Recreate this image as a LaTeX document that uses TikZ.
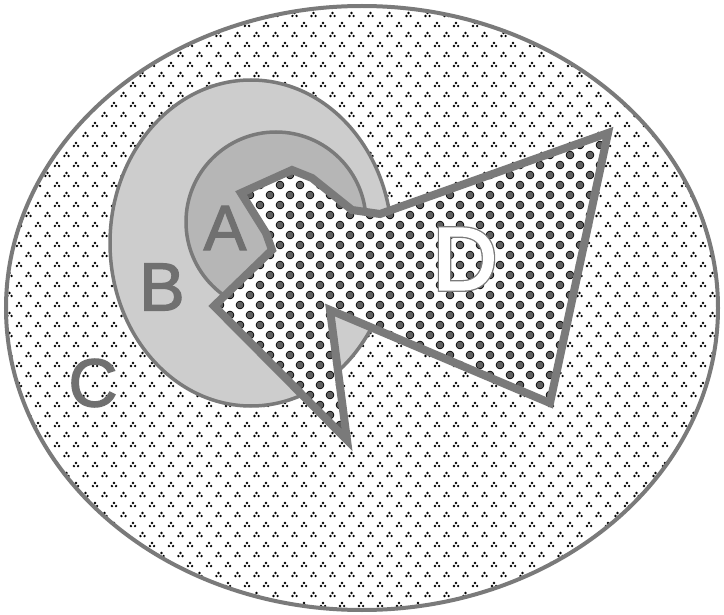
\documentclass[tikz,border=0pt]{standalone}
\usepackage{fontspec}
\setmainfont{Liberation Sans}
\newfontfamily\lettfont[FakeBold=2]{Liberation Sans}
\newfontfamily\doutfont[FakeBold=6]{Liberation Sans}
\newfontfamily\dinfont[FakeBold=3]{Liberation Sans}
\definecolor{strk}{RGB}{122,122,122}
\definecolor{bfill}{RGB}{205,205,205}
\definecolor{afill}{RGB}{182,182,182}
\definecolor{dcirc}{RGB}{95,95,95}
\definecolor{lett}{RGB}{112,112,112}
\begin{document}
\begin{tikzpicture}[x=1pt,y=-1pt,
  region/.style={draw=strk, line width=3.5pt},
  letter/.style={inner sep=0pt, text=lett, font=\lettfont\fontsize{68}{68}\selectfont},
  dletter/.style={inner sep=0pt}]
\useasboundingbox (0,0) rectangle (724,615);
\fill[white] (0,0) rectangle (724,615);
% region C with sparse three-dot clusters
\begin{scope}
  \clip (362,308) ellipse [x radius=356, y radius=302];
  \foreach \j in {0,...,62} {
    \foreach \i in {0,...,38} {
      \pgfmathsetmacro\xx{\i*19+mod(\j,2)*9.5}
      \pgfmathsetmacro\yy{\j*10+3}
      \fill[black] (\xx,\yy) circle (1.35) ++(-2.1,3.0) circle (1.35) ++(4.2,0) circle (1.35);
    }
  }
\end{scope}
\draw[region, line width=4pt] (362,308) ellipse [x radius=356, y radius=302];
% region B
\filldraw[region, fill=bfill] (251,243) ellipse [x radius=141, y radius=163];
% region A
\filldraw[region, fill=afill] (276,222) circle [radius=90];
% region D
\begin{scope}
  \clip (241,193) -- (292,170) -- (312,178) -- (352,210) -- (380,214) -- (608,133)
    -- (550,403) -- (330,310) -- (347,440) -- (214,306) -- (272,250) -- (266,233) -- cycle;
  \fill[white] (190,120) rectangle (630,450);
  \foreach \j in {0,...,33} {
    \foreach \i in {0,...,22} {
      \pgfmathsetmacro\xx{200+\i*20+mod(\j,2)*10}
      \pgfmathsetmacro\yy{125+\j*10}
      \filldraw[fill=dcirc, draw=black, line width=0.7pt] (\xx,\yy) circle (3.9);
    }
  }
\end{scope}
\draw[draw=strk, line width=8pt, line join=miter]
  (241,193) -- (292,170) -- (312,178) -- (352,210) -- (380,214) -- (608,133)
    -- (550,403) -- (330,310) -- (347,440) -- (214,306) -- (272,250) -- (266,233) -- cycle;
% labels
\node[letter, font=\lettfont\fontsize{64}{64}\selectfont] (la) at (225,228) {A};
\node[letter] (lb) at (162,287) {B};
\node[letter] (lc) at (93,383) {C};
\node[dletter, text=strk, font=\doutfont\fontsize{88}{88}\selectfont] (ldout) at (465,259) {D};
\node[dletter, text=white, font=\dinfont\fontsize{88}{88}\selectfont] (ld) at (465,259) {D};
\end{tikzpicture}
\end{document}
